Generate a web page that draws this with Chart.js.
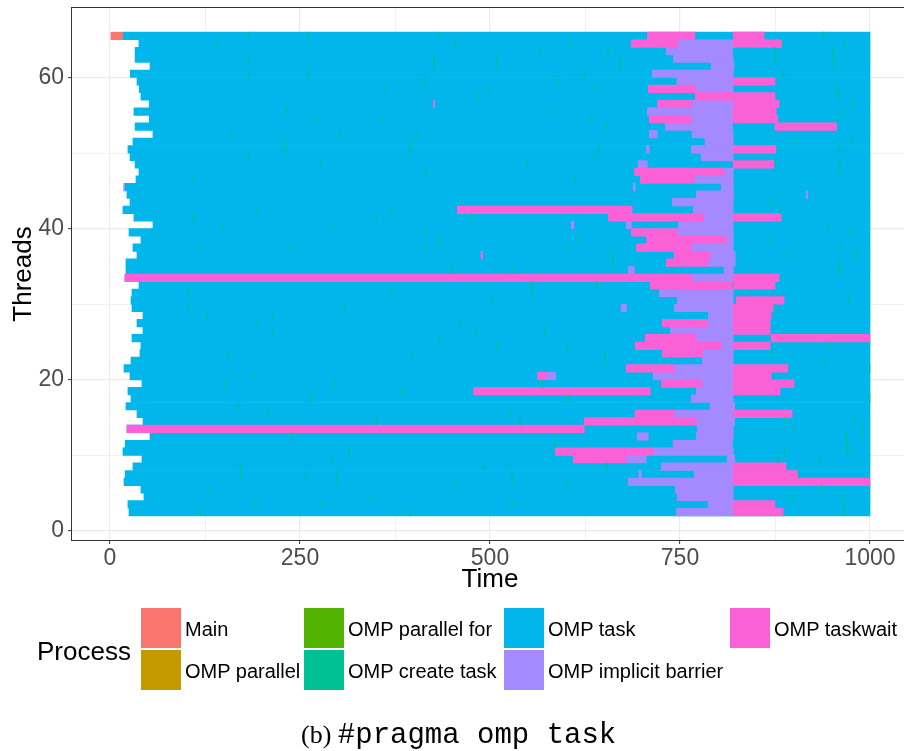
<!DOCTYPE html>
<html>
<head>
<meta charset="utf-8">
<script src="https://cdn.jsdelivr.net/npm/chart.js@4.4.1/dist/chart.umd.min.js"></script>
<style>
html,body{margin:0;padding:0;overflow:hidden;background:#fff;width:904px;height:751px;}
#wrap{position:absolute;left:0;top:0;width:910px;height:600px;}
#overlay{position:absolute;left:0;top:0;width:904px;height:751px;font-family:"Liberation Sans",Arial,sans-serif;color:#000;}
.key{position:absolute;width:40px;height:40px;}
.lab{position:absolute;font-size:20px;line-height:24px;white-space:nowrap;transform:translateY(-50%);}
#ptitle{position:absolute;left:37px;top:651px;font-size:26px;line-height:30px;transform:translateY(-50%);}
#caption{position:absolute;left:301px;top:735px;white-space:nowrap;transform:translateY(-50%);}
#caption .serif{font-family:"Liberation Serif","Times New Roman",serif;font-size:26px;}
#caption .mono{font-family:"Liberation Mono","Courier New",monospace;font-size:29px;}
</style>
</head>
<body>
<div id="wrap"><canvas id="c" width="910" height="600"></canvas></div>
<div id="overlay">
  <div id="ptitle">Process</div>
  <div id="caption"><span class="serif">(b) </span><span class="mono">#pragma omp task</span></div>
</div>
<script>
// ---------------- data ----------------
const processNames = ['Main', 'OMP parallel', 'OMP parallel for', 'OMP create task', 'OMP task', 'OMP implicit barrier', 'OMP taskwait'];
const processColors = ['#F8766D', '#C49A00', '#53B400', '#00C094', '#00B6EB', '#A58AFF', '#FB61D7'];

const threadIds = [65,64,63,62,61,60,59,58, 57,56,55,54,53,52,51,50, 49,48,47,46,45,44,43,42,
                   41,40,39,38,37,36,35,34, 33,32,31,30,29,28,27,26, 25,24,23,22,21,20,19,18,
                   17,16,15,14,13,12,11,10, 9,8,7,6,5,4,3,2];
// start of the first OMP task span of each thread (runs until taskEnd)
const taskStart = [16.7,38,33,33,52.6,26.7,35.5,38.5, 40.7,51.7,31.5,51.7,33,56.5,30.2,23.6,
                   26.3,33,38.1,34.2,19.3,22.3,26.3,17, 31.5,56.5,25,40.7,30.2,35.5,21,21,
                   19.7,38.1,28.9,27.6,28.9,43.4,35.5,43.4, 28.9,40.7,39.4,27.6,18.4,26.3,42,23.6,
                   27.6,21,35.5,43.4,22.3,52.6,20,17, 42,30.2,20,18.4,40.7,44.7,23.6,25];
const taskEnd = 1000;

// [thread, start, end]
const mainSpans = [[65, 1.3, 16.7]];

const barrierSpans = [
  [64,747,820],[63,732,819],[62,741.5,820],[61,791,821],[60,713.5,820],[59,746,820],[58,771,820],
  [56,765.7,820],[55,707,820],[54,764.8,820],[53,730.6,819],[52,709.6,720],[52,766,820],[51,783,820],
  [50,706,709.6],[50,764.8,820],[49,777.8,820],[48,695,707],[47,808,820],[46,769,820],
  [45,18,19.3],[45,688.6,691],[45,804.2,820],[44,771.4,820.5],[44,916,918],[43,739.8,820],[42,767.4,820],
  [41,781.4,820],[40,607,610.5],[40,679.4,686],[40,747.7,820],[39,746.4,820],[38,810.8,820],[37,764.8,820],
  [36,789.7,822.6],[35,786.3,822.6],[34,682,689.9],[34,808,820],[33,765.7,820],[31,722.7,820],[30,746.4,820],
  [29,672.6,679.4],[29,742.4,820],[28,787.2,820],[27,785.8,820],[26,737.2,820],[25,771.4,820],[24,804,820],
  [23,779.3,820],[22,779.3,820],[21,742.4,820],[20,574.4,586.3],[20,714.8,820],[19,778,820],[18,771.3,820],
  [17,764.8,820],[16,789.7,822],[15,742.4,820],[14,771.3,822],[13,772.6,820],[12,694,708.3],[12,771.3,820],
  [11,741,818.7],[10,714.8,820],[9,679.3,705.6],[9,812,822],[8,725.4,820],[7,696,699],[7,768.6,820],
  [6,682,820],[5,743.7,820],[4,746.4,820],[3,787,820],[2,745,820]
];

const taskwaitSpans = [
  [65,707,769.6],[65,820,860.7],[64,686,747],[64,820,884.4],[59,820,875],[58,708.3,771],[57,770,875],
  [56,425.5,427],[56,720.5,765.7],[56,820,880.4],[55,820,876.6],[54,709.6,764.8],[54,820,878.7],[53,875,956],
  [50,820,876],[48,820,874],[47,690,808],[46,698,769],[42,457,687],[41,656,781.4],[41,820,883],
  [39,686,746.4],[38,706,810.8],[37,692.6,764.8],[36,488,490],[36,742.4,789.7],[35,732,786.3],
  [33,19.7,765.7],[33,820,880.4],[32,710.9,818.4],[32,820,875],[30,824,887],[29,820,874],[28,820,870],
  [27,726.6,785.8],[27,820,868.7],[26,820,868.7],[25,704.3,771.4],[25,870,1000],[24,691.2,804],[24,820,868.7],
  [23,726.7,779.3],[21,679.3,742.4],[21,820,892],[20,562.5,574.4],[20,820,870],[19,725.4,778],[19,820,900],
  [18,478.3,711],[18,820,881.7],[15,691,742.4],[15,820,897.5],[14,624,771.3],[13,22.3,624],[10,586,714.8],
  [9,609.7,679.3],[8,820,889.6],[7,820,905],[6,820,1000],[3,820,875],[2,820,885.7]
];

// [thread, time] of short "OMP create task" events
const createTaskTimes = [
  [65,181.8],[65,260.6],[65,431.5],[65,938.7],[64,141],[64,453.7],[64,604.9],[64,884.4],[64,966.3],
  [63,565.4],[63,654.8],[63,874.3],[63,950.5],[62,181.8],[62,426.2],[62,509],[62,670.6],[62,874.3],[62,951.8],
  [61,426.2],[61,509],[61,670.6],[61,953.2],[60,181.8],[60,260.6],[60,624.6],[60,884.8],[59,414.3],[59,589],
  [58,360.4],[58,497.1],[58,637.7],[58,956.2],[57,484],[57,958.4],[56,977.3],[55,231.7],[55,583.8],[55,963.7],
  [54,269.8],[54,357.8],[54,632.5],[54,957.1],[53,653.5],[52,159.4],[52,301.3],[52,405.1],
  [51,226.4],[51,394.6],[51,900.6],[51,974.2],[50,230.4],[50,394.6],[50,643],[50,959.8],[49,181.8],[49,637.7],
  [48,276.4],[48,548.4],[48,874.3],[48,959.8],[47,415.6],[47,957.1],[46,109.5],[46,611.4],[43,868.6],
  [42,193.6],[42,369.6],[42,880.9],[41,109.5],[41,350],[41,474.8],[40,147.6],[40,289.5],[40,943.9],
  [39,414.3],[39,974.1],[38,431.5],[38,615.4],[38,869],[37,117.4],[37,237],[37,414.3],[37,599.6],[37,960.3],
  [36,661.4],[36,892.7],[36,982.2],[35,661.4],[35,958.4],[34,449.8],[34,528.6],[34,958.4],[32,555.3],[32,640.3],
  [31,103],[31,368.3],[31,555.3],[30,502.4],[30,971.5],[29,103],[29,309],[29,873.4],[28,126.6],[28,213.3],
  [27,193.6],[27,460.3],[26,213.3],[26,481.3],[26,572],[25,432.7],[24,509],[24,601],[24,945.2],
  [23,155.5],[23,397.2],[23,650.9],[23,870.3],[22,650.9],[22,940],[21,999],[20,189.6],[19,151.5],[19,296],[19,568],
  [18,384.1],[17,264.5],[17,602.2],[17,999],[16,168.6],[15,208],[15,526],[14,350],[14,539.2],[14,887],[14,978.5],
  [13,899.3],[13,988.6],[12,238.3],[12,968],[11,585.2],[11,969.3],[10,314.5],[10,887],[10,970.2],
  [9,292],[9,878.7],[9,933.5],[8,171.3],[8,490.5],[8,653.5],[7,171.3],[7,258],[7,298.7],[7,528.6],[7,905.4],
  [6,298.7],[6,452.4],[6,528.6],[6,599.6],[5,129],[5,936.3],[4,342],[4,898],[4,962.3],
  [3,191],[3,276.4],[3,528.6],[3,965.3],[2,118.7],[2,394.6],[2,965.3]
];
const createTaskDuration = 1.0;

const xMajorTicks = [0, 250, 500, 750, 1000];
const xTickLabels = ['0', '250', '500', '750', '1000'];
const xMinorTicks = [125, 375, 625, 875];
const yMajorTicks = [0, 20, 40, 60];
const yTickLabels = ['0', '20', '40', '60'];
const yMinorTicks = [10, 30, 50];

// ---------------- build ----------------
const rowCenter = th => th + 0.5;
const spansToBars = spans => spans.map(([th, s, e]) => ({x: [s, e], y: rowCenter(th)}));

const datasets = [
  {label: processNames[0], data: spansToBars(mainSpans), backgroundColor: processColors[0], order: 1},
  {label: processNames[1], data: [], backgroundColor: processColors[1], order: 1},
  {label: processNames[2], data: [], backgroundColor: processColors[2], order: 1},
  {label: processNames[3], data: createTaskTimes.map(([th, s]) => ({x: [s, s + createTaskDuration], y: rowCenter(th)})), backgroundColor: processColors[3], order: 0},
  {label: processNames[4], data: threadIds.map((th, i) => ({x: [taskStart[i], taskEnd], y: rowCenter(th)})), backgroundColor: processColors[4], order: 5},
  {label: processNames[5], data: spansToBars(barrierSpans), backgroundColor: processColors[5], order: 3},
  {label: processNames[6], data: spansToBars(taskwaitSpans), backgroundColor: processColors[6], order: 2}
];

const isMajorX = v => xMajorTicks.includes(v);
const isMajorY = v => yMajorTicks.includes(v);

const panelBorder = {
  id: 'panelBorder',
  afterDraw(chart) {
    const {ctx, chartArea: a} = chart;
    ctx.save();
    ctx.strokeStyle = '#333333';
    ctx.lineWidth = 1;
    ctx.strokeRect(a.left - 0.5, a.top - 0.5, a.right - a.left + 1, a.bottom - a.top + 1);
    ctx.restore();
  }
};

new Chart(document.getElementById('c'), {
  type: 'bar',
  data: {datasets},
  plugins: [panelBorder],
  options: {
    indexAxis: 'y',
    responsive: false,
    devicePixelRatio: 1,
    animation: false,
    layout: {padding: {left: 0, right: 2, top: 8, bottom: 0}},
    plugins: {legend: {display: false}, tooltip: {enabled: false}},
    datasets: {bar: {grouped: false, barPercentage: 1, categoryPercentage: 1, borderWidth: 0}},
    scales: {
      x: {
        type: 'linear', position: 'bottom', min: -50, max: 1050, offset: false,
        afterBuildTicks: s => { s.ticks = xMajorTicks.concat(xMinorTicks).sort((a, b) => a - b).map(v => ({value: v})); },
        afterFit: s => { s.height = 60; s.paddingLeft = 0; s.paddingRight = 0; },
        ticks: {
          autoSkip: false, maxRotation: 0, padding: 1, color: '#4D4D4D',
          font: {family: 'Liberation Sans', size: 23},
          callback: v => { const k = xMajorTicks.indexOf(v); return k >= 0 ? xTickLabels[k] : ''; }
        },
        grid: {
          offset: false,
          color: '#EBEBEB',
          lineWidth: c => (c.tick && isMajorX(c.tick.value)) ? 1.2 : 0.7,
          tickLength: 4,
          tickColor: c => (c.tick && isMajorX(c.tick.value)) ? '#333333' : 'rgba(0,0,0,0)',
          tickWidth: 1
        },
        border: {display: false},
        title: {display: true, text: 'Time', color: '#000', font: {family: 'Liberation Sans', size: 26}, padding: {top: 0, bottom: 5}}
      },
      y: {
        type: 'linear', position: 'left', min: -1.2, max: 69.2, offset: false,
        afterBuildTicks: s => { s.ticks = yMajorTicks.concat(yMinorTicks).sort((a, b) => a - b).map(v => ({value: v})); },
        afterFit: s => { s.width = 72; s.paddingTop = 0; s.paddingBottom = 0; },
        ticks: {
          autoSkip: false, padding: 4, color: '#4D4D4D',
          font: {family: 'Liberation Sans', size: 23},
          callback: v => { const k = yMajorTicks.indexOf(v); return k >= 0 ? yTickLabels[k] : ''; }
        },
        grid: {
          offset: false,
          color: '#EBEBEB',
          lineWidth: c => (c.tick && isMajorY(c.tick.value)) ? 1.2 : 0.7,
          tickLength: 4,
          tickColor: c => (c.tick && isMajorY(c.tick.value)) ? '#333333' : 'rgba(0,0,0,0)',
          tickWidth: 1
        },
        border: {display: false},
        title: {display: true, text: 'Threads', color: '#000', font: {family: 'Liberation Sans', size: 26}, padding: {top: 8, bottom: 0}}
      }
    }
  }
});

// ---------------- legend (HTML text) ----------------
const overlay = document.getElementById('overlay');
const legendColX = [141, 304, 504, 730];
const legendRowY = [608, 650];
processNames.forEach((name, i) => {
  const col = Math.floor(i / 2), row = i % 2;
  const key = document.createElement('div');
  key.className = 'key';
  key.style.left = legendColX[col] + 'px';
  key.style.top = legendRowY[row] + 'px';
  key.style.background = processColors[i];
  overlay.appendChild(key);
  const lab = document.createElement('div');
  lab.className = 'lab';
  lab.style.left = (legendColX[col] + 44) + 'px';
  lab.style.top = (legendRowY[row] + 21) + 'px';
  lab.textContent = name;
  overlay.appendChild(lab);
});
</script>
</body>
</html>
